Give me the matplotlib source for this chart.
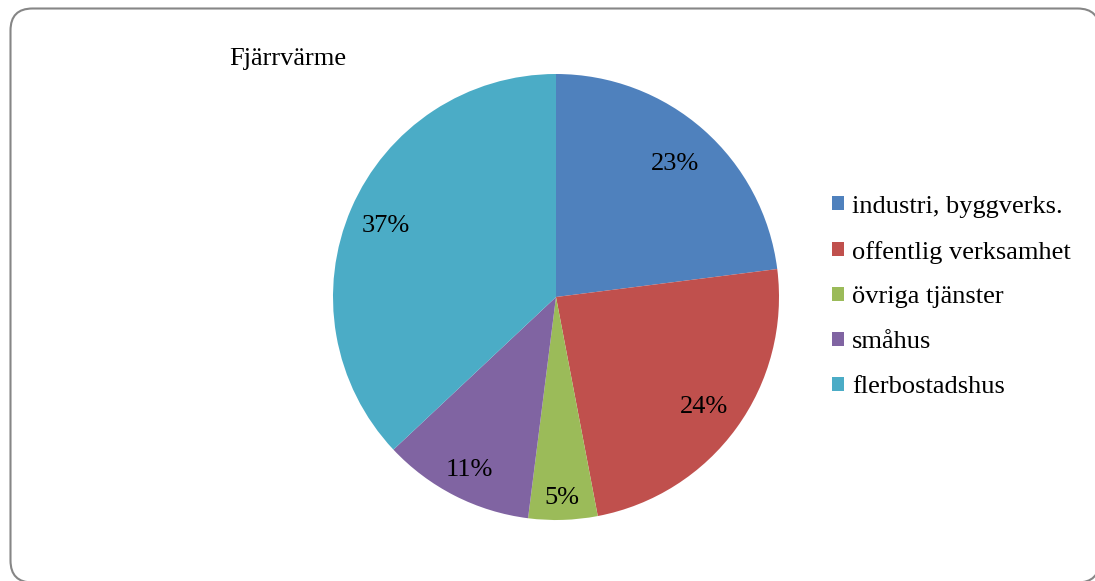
import numpy as np
import matplotlib.pyplot as plt
from matplotlib.patches import FancyBboxPatch

# Fjärrvärme usage by sector (percent)
sectors = ['industri, byggverks.', 'offentlig verksamhet', 'övriga tjänster',
           'småhus', 'flerbostadshus']
shares = [23, 24, 5, 11, 37]
colors = ['#4F81BD', '#C0504D', '#9BBB59', '#8064A2', '#4BACC6']
label_dist = [0.81, 0.82, 0.89, 0.86, 0.83]   # best-fit style label placement
title = 'Fjärrvärme'

plt.rcParams['font.family'] = ['Liberation Serif', 'DejaVu Serif']

W, H = 1095, 581
fig = plt.figure(figsize=(W / 100, H / 100), dpi=100)

# background axes in pixel units for the rounded chart frame
bg = fig.add_axes([0, 0, 1, 1])
bg.set_xlim(0, W)
bg.set_ylim(H, 0)
bg.axis('off')
frame = FancyBboxPatch((10.5, 8.5), 1089, 574, boxstyle='round,pad=0,rounding_size=22',
                       facecolor='white', edgecolor='#868686', linewidth=1.5)
bg.add_patch(frame)

# pie axes: centre (556, 297) px, radius 223 px
cx, cy, r = 556, 297, 223
ax = fig.add_axes([(cx - r) / W, (H - cy - r) / H, 2 * r / W, 2 * r / H])
wedges, texts, autotexts = ax.pie(
    shares, colors=colors, startangle=90, counterclock=False,
    autopct='%1.0f%%', pctdistance=0.82, radius=1,
    wedgeprops=dict(edgecolor='none'),
    textprops=dict(fontsize=19, color='black'))
for w, t, d in zip(wedges, autotexts, label_dist):
    ang = np.deg2rad((w.theta1 + w.theta2) / 2)
    t.set_position((d * np.cos(ang), d * np.sin(ang)))
    t.set_va('center_baseline')
ax.set_xlim(-1, 1)
ax.set_ylim(-1, 1)
ax.set_aspect('auto')
ax.axis('off')

fig.text(229 / W, 1 - 59 / H, title, fontsize=19, va='center', ha='left')

leg = fig.legend(wedges, sectors, loc='center left',
                 bbox_to_anchor=(832 / W, 1 - 297 / H), frameon=False,
                 fontsize=19, handlelength=0.46, handleheight=0.46,
                 handletextpad=0.3, labelspacing=0.87, borderpad=0,
                 borderaxespad=0)

fig.savefig('out.png', dpi=100)
